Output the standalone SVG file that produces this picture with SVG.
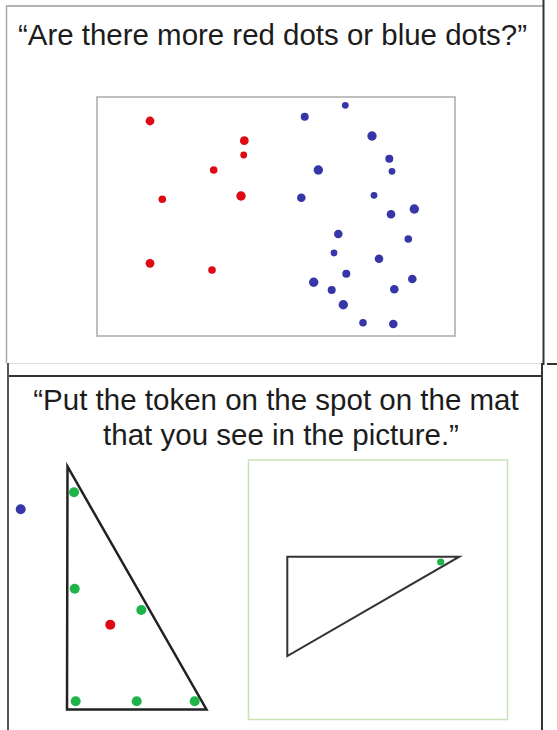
<svg xmlns="http://www.w3.org/2000/svg" width="557" height="730" viewBox="0 0 557 730">
<style>
.title{font-family:"Liberation Sans",Arial,sans-serif;font-size:29.5px;fill:#1c1c1c}
.red{fill:#dd0a14}
.blue{fill:#3636a8}
.green{fill:#1fb449}
.tri{fill:none;stroke:#222;stroke-width:2.5;stroke-linejoin:miter}
.frame{stroke:#333;stroke-width:2;fill:none}
</style>
<rect x="0" y="0" width="557" height="730" fill="#ffffff"/>
<g id="frame">
<line x1="6" y1="6" x2="543" y2="6" stroke="#999" stroke-width="1.5"/>
<line x1="6.5" y1="6" x2="6.5" y2="364" stroke="#aaa" stroke-width="1.5"/>
<line x1="6" y1="363.5" x2="543" y2="363.5" stroke="#ddd" stroke-width="1"/>
<line x1="543.5" y1="0" x2="543.5" y2="365" class="frame"/>
<line x1="547" y1="364" x2="557" y2="364" class="frame"/>
<line x1="7" y1="376" x2="543" y2="376" class="frame"/>
<line x1="8" y1="363" x2="8" y2="730" stroke="#555" stroke-width="2"/>
<line x1="542" y1="363" x2="542" y2="730" class="frame"/>
</g>
<g id="title-top">
<text class="title" x="18" y="45" textLength="509" lengthAdjust="spacingAndGlyphs">“Are there more red dots or blue dots?”</text>
</g>
<g id="dot-card">
<rect x="97" y="97" width="358" height="239" fill="#fff" stroke="#aaa" stroke-width="1.5"/>
<g id="red-dots" class="red">
<circle cx="150" cy="121" r="4.4"/>
<circle cx="244.3" cy="140.7" r="4.4"/>
<circle cx="243.7" cy="155" r="3.4"/>
<circle cx="213.7" cy="170" r="3.8"/>
<circle cx="162.3" cy="199.3" r="3.8"/>
<circle cx="241" cy="196" r="4.7"/>
<circle cx="150" cy="263.3" r="4.4"/>
<circle cx="212" cy="270" r="3.8"/>
</g>
<g id="blue-dots" class="blue">
<circle cx="345.3" cy="105.3" r="3.4"/>
<circle cx="304.7" cy="116.7" r="4"/>
<circle cx="372" cy="136" r="4.7"/>
<circle cx="389.3" cy="158.7" r="4"/>
<circle cx="392" cy="171.3" r="3.4"/>
<circle cx="318.3" cy="170" r="4.7"/>
<circle cx="301.3" cy="197.7" r="4.3"/>
<circle cx="374" cy="195.3" r="3.4"/>
<circle cx="391" cy="214.3" r="4.3"/>
<circle cx="414.3" cy="209" r="4.7"/>
<circle cx="338.3" cy="234" r="4.3"/>
<circle cx="408.3" cy="239" r="3.8"/>
<circle cx="334" cy="253" r="3.4"/>
<circle cx="379" cy="258.7" r="4.3"/>
<circle cx="346.3" cy="273.7" r="4"/>
<circle cx="313.7" cy="282.3" r="4.7"/>
<circle cx="412.3" cy="279" r="4.3"/>
<circle cx="331.7" cy="290" r="4"/>
<circle cx="394.3" cy="289.3" r="4.3"/>
<circle cx="343.3" cy="304.7" r="4.7"/>
<circle cx="363" cy="322.7" r="3.8"/>
<circle cx="393.3" cy="324" r="4.3"/>
</g>
</g>
<g id="title-bottom">
<text class="title" x="276" y="410" text-anchor="middle">“Put the token on the spot on the mat</text>
<text class="title" x="281" y="445" text-anchor="middle">that you see in the picture.”</text>
</g>
<g id="token">
<circle cx="20.7" cy="509.3" r="5" class="blue"/>
</g>
<g id="picture">
<polygon class="tri" points="67.5,466.5 67,709.5 206.5,709.5"/>
<circle cx="74" cy="492.3" r="5" class="green"/>
<circle cx="74.7" cy="588.7" r="5" class="green"/>
<circle cx="141.3" cy="610" r="5" class="green"/>
<circle cx="75.7" cy="701.3" r="5" class="green"/>
<circle cx="136.7" cy="701.3" r="5" class="green"/>
<circle cx="194.7" cy="701.3" r="5" class="green"/>
<circle cx="110.3" cy="624.7" r="5" class="red"/>
</g>
<g id="mat">
<rect x="248.5" y="460" width="259" height="259.5" fill="none" stroke="#c8e2b4" stroke-width="1.5"/>
<polygon points="287.3,556.7 459.3,556.7 287.3,656" fill="none" stroke="#333" stroke-width="2"/>
<circle cx="440.7" cy="562" r="3.6" class="green"/>
</g>
</svg>
